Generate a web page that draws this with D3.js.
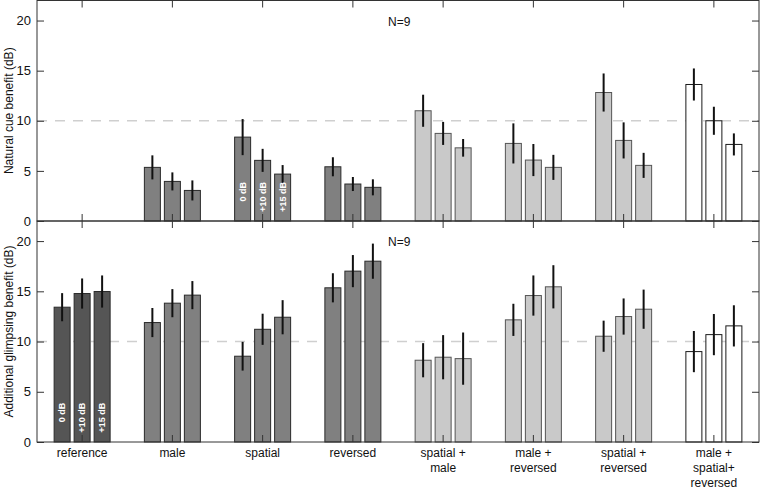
<!DOCTYPE html>
<html><head><meta charset="utf-8">
<script src="https://cdn.jsdelivr.net/npm/d3@7"></script>
<style>
body{margin:0;background:#fff;}
svg{display:block;font-family:"Liberation Sans",Arial,Helvetica,sans-serif;}
</style></head>
<body><svg id="chart" width="760" height="490"></svg>
<script>
const categories = ["reference","male","spatial","reversed","spatial + male","male + reversed","spatial + reversed","male + spatial+ reversed"];
const categoryLines = [["reference"],["male"],["spatial"],["reversed"],["spatial +","male"],["male +","reversed"],["spatial +","reversed"],["male +","spatial+","reversed"]];
const snrLevels = ["0 dB","+10 dB","+15 dB"];
const yTicks = [0,5,10,15,20];
// Natural cue benefit (top panel), per category, per SNR
const naturalMean = [
  [null,null,null],
  [5.35,3.95,3.05],
  [8.37,6.05,4.68],
  [5.41,3.69,3.36],
  [11.0,8.74,7.3],
  [7.74,6.08,5.35],
  [12.82,8.04,5.55],
  [13.62,10.0,7.64]
];
const naturalErr = [
  [null,null,null],
  [1.2,0.9,1.0],
  [1.8,1.15,0.9],
  [0.95,0.7,0.8],
  [1.6,1.15,0.88],
  [2.0,1.6,1.25],
  [1.9,1.8,1.25],
  [1.6,1.4,1.1]
];
// Additional glimpsing benefit (bottom panel)
const glimpseMean = [
  [13.42,14.78,14.98],
  [11.89,13.82,14.62],
  [8.54,11.22,12.42],
  [15.35,17.01,18.0],
  [8.14,8.44,8.3],
  [12.16,14.58,15.45],
  [10.53,12.49,13.22],
  [9.0,10.69,11.56]
];
const glimpseErr = [
  [1.4,1.5,1.6],
  [1.45,1.4,1.4],
  [1.43,1.55,1.7],
  [1.45,1.6,1.75],
  [1.7,2.2,2.6],
  [1.6,2.0,2.15],
  [1.55,1.8,1.95],
  [2.05,2.05,2.05]
];
const groupType = ["dark","mid","mid","mid","light","light","light","white"];

const fills = {dark:"#555555", mid:"#808080", light:"#c9c9c9", white:"#ffffff"};
const strokes = {dark:"#2a2a2a", mid:"#2a2a2a", light:"#555555", white:"#1a1a1a"};

const svg = d3.select("#chart");
const L = 37, R = 759, T = 0.5, MID = 221, B = 442;

const x = d3.scaleBand().domain(categories).range([L, R]).padding(0);
const xs = d3.scaleBand().domain([0,1,2]).range([-30, 30]).paddingInner(0.2).paddingOuter(0.1);

const panels = [
  {y: d3.scaleLinear().domain([0,22]).range([MID, T]), mean: naturalMean, err: naturalErr, title: "Natural cue benefit (dB)", labelCat: 2, top: T, bottom: MID},
  {y: d3.scaleLinear().domain([0,22]).range([B, MID]), mean: glimpseMean, err: glimpseErr, title: "Additional glimpsing benefit (dB)", labelCat: 0, top: MID, bottom: B}
];

panels.forEach((p, pi) => {
  const g = svg.append("g");
  // dashed reference line at 10
  g.append("line").attr("x1", L).attr("x2", R)
    .attr("y1", p.y(10)).attr("y2", p.y(10))
    .attr("stroke", "#cfcfcf").attr("stroke-width", 1.5).attr("stroke-dasharray", "10,8");

  // bars
  const rows = [];
  categories.forEach((c, ci) => {
    p.mean[ci].forEach((v, si) => {
      if (v == null) return;
      rows.push({c, ci, si, v, e: p.err[ci][si], t: groupType[ci]});
    });
  });
  g.selectAll("rect.bar").data(rows).join("rect").attr("class","bar")
    .attr("x", d => x(d.c) + x.bandwidth()/2 + xs(d.si))
    .attr("width", xs.bandwidth())
    .attr("y", d => p.y(d.v))
    .attr("height", d => p.y(0) - p.y(d.v))
    .attr("fill", d => fills[d.t])
    .attr("stroke", d => strokes[d.t]).attr("stroke-width", 1);

  // error bars
  g.selectAll("line.err").data(rows).join("line").attr("class","err")
    .attr("x1", d => x(d.c) + x.bandwidth()/2 + xs(d.si) + xs.bandwidth()/2)
    .attr("x2", d => x(d.c) + x.bandwidth()/2 + xs(d.si) + xs.bandwidth()/2)
    .attr("y1", d => p.y(d.v + d.e)).attr("y2", d => p.y(d.v - d.e))
    .attr("stroke", "#111").attr("stroke-width", 2);

  // SNR labels inside bars
  const lc = categories[p.labelCat];
  snrLevels.forEach((s, si) => {
    const cx = x(lc) + x.bandwidth()/2 + xs(si) + xs.bandwidth()/2;
    const cy = p.y(3.9);
    g.append("text").attr("transform", `translate(${cx + 3},${cy}) rotate(-90)`)
      .attr("text-anchor", "end").attr("fill", "#fff").attr("font-weight", "bold")
      .attr("font-size", 9).text(s);
  });

  // axes
  const yl = d3.axisLeft(p.y).tickValues(yTicks).tickSizeInner(-7).tickSizeOuter(0).tickPadding(6);
  const ya = g.append("g").attr("transform", `translate(${L},0)`).call(yl);
  ya.select(".domain").remove();
  ya.selectAll("text").attr("font-size", 13).attr("fill", "#111").attr("font-family", null);
  ya.selectAll("line").attr("stroke", "#333");

  const yr = d3.axisRight(p.y).tickValues(yTicks).tickSizeInner(-7).tickSizeOuter(0).tickFormat("");
  const yra = g.append("g").attr("transform", `translate(${R},0)`).call(yr);
  yra.select(".domain").remove();
  yra.selectAll("line").attr("stroke", "#333");

  const xt = d3.axisTop(x).tickSizeInner(-7).tickSizeOuter(0).tickFormat("");
  const xta = g.append("g").attr("transform", `translate(0,${p.top})`).call(xt);
  xta.select(".domain").remove();
  xta.selectAll("line").attr("stroke", "#333");

  const xb = d3.axisBottom(x).tickSizeInner(-7).tickSizeOuter(0).tickPadding(6).tickFormat(pi === 1 ? null : "");
  const xba = g.append("g").attr("transform", `translate(0,${p.bottom})`).call(xb);
  xba.select(".domain").remove();
  xba.selectAll("line").attr("stroke", "#333");
  if (pi === 1) {
    xba.selectAll("text").each(function(d, i) {
      const t = d3.select(this).attr("font-size", 12).attr("fill", "#111").attr("font-family", null);
      t.text(null);
      categoryLines[i].forEach((ln, li) => {
        t.append("tspan").attr("x", 0).attr("dy", li === 0 ? "0.71em" : "1.25em").text(ln);
      });
    });
  }

  // frame
  g.append("rect").attr("x", L).attr("y", p.top).attr("width", R - L).attr("height", p.bottom - p.top)
    .attr("fill", "none").attr("stroke", "#333").attr("stroke-width", 1);

  // title
  g.append("text").attr("transform", `translate(13,${(p.top + p.bottom)/2}) rotate(-90)`)
    .attr("text-anchor", "middle").attr("font-size", 12).attr("fill", "#111").text(p.title);

  // N=9
  g.append("text").attr("x", 388).attr("y", p.top + 25).attr("font-size", 12).attr("fill", "#111").text("N=9");
});
</script></body></html>
